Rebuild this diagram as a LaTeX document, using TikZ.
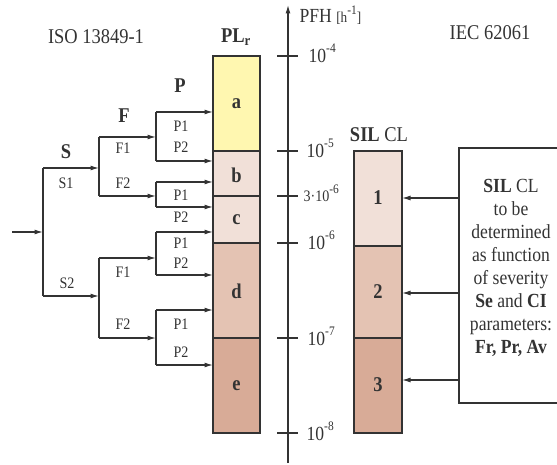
\documentclass[tikz,border=0pt]{standalone}
\usepackage{fontspec}
\setmainfont[FakeStretch=0.88]{Liberation Serif}
\usetikzlibrary{arrows.meta}
\definecolor{lc}{HTML}{333333}
\definecolor{ca}{HTML}{FFF7B0}
\definecolor{cb}{HTML}{F1E0D8}
\definecolor{cd}{HTML}{E4C3B3}
\definecolor{ce}{HTML}{D8AB97}
\newcommand{\fsz}[1]{\fontsize{#1}{#1}\selectfont}
\newcommand{\ex}[1]{\raisebox{0.5em}{\fsz{13}#1}}
\begin{document}
\begin{tikzpicture}[x=1pt,y=-1pt,line width=1.2pt,draw=lc,
  arr/.style={-{Latex[length=8.5pt,width=5pt]}},
  lab/.style={text=lc,font=\fsz{16},inner sep=0pt},
  head/.style={text=lc,font=\fsz{21},inner sep=0pt},
  bhead/.style={text=lc,font=\fsz{21}\bfseries,inner sep=0pt},
  tlab/.style={text=lc,font=\fsz{20},anchor=base west,inner sep=0pt},
  boxlab/.style={text=lc,font=\fsz{21}\bfseries,inner sep=0pt}]
\useasboundingbox (0,0) rectangle (557,465);

% headings
\node[head] (iso) at (96,37) {ISO 13849-1};
\node[bhead] (plr) at (236,37) {PL\textsubscript{r}};
\node[head] (iec) at (490,33) {IEC 62061};
\node[text=lc,font=\fsz{20},anchor=west,inner sep=0pt] (pfh) at (299,15) {PFH {\fsz{15}[h\ex{-1}]}};
\node[text=lc,font=\fsz{21},inner sep=0pt] (silcl) at (379,135) {\textbf{SIL} CL};

% PL boxes
\draw[fill=ca] (213,56) rectangle (260,151);
\draw[fill=cb] (213,151) rectangle (260,196);
\draw[fill=cb] (213,196) rectangle (260,243);
\draw[fill=cd] (213,243) rectangle (260,338);
\draw[fill=ce] (213,338) rectangle (260,433);
\node[boxlab] (a) at (236.5,103.5) {a};
\node[boxlab] (b) at (236.5,175) {b};
\node[boxlab] (c) at (236.5,220) {c};
\node[boxlab] (d) at (236.5,291) {d};
\node[boxlab] (e) at (236.5,386) {e};

% SIL boxes
\draw[fill=cb] (354,151) rectangle (402,246);
\draw[fill=cd] (354,246) rectangle (402,338);
\draw[fill=ce] (354,338) rectangle (402,433);
\node[boxlab] (sil1) at (378,198) {1};
\node[boxlab] (sil2) at (378,292) {2};
\node[boxlab] (sil3) at (378,385) {3};

% axis
\coordinate (ax0) at (288,463);
\coordinate (ax1) at (288,5);
\draw[arr] (ax0) -- (ax1);
\foreach \yy in {56,151,196,243,338,433} \draw (277,\yy) -- (298,\yy);
\node[tlab] (t4) at (308,63) {10\ex{-4}};
\node[tlab] (t5) at (306,158) {10\ex{-5}};
\node[tlab,font=\fsz{16}] (t36) at (303,202) {3·10\ex{-6}};
\node[tlab] (t6) at (307,250) {10\ex{-6}};
\node[tlab] (t7) at (307,345) {10\ex{-7}};
\node[tlab] (t8) at (306,440) {10\ex{-8}};

% right box
\draw (557,148) -- (459,148) -- (459,403) -- (557,403);
\node[text=lc,font=\fontsize{20}{23}\selectfont,align=center,inner sep=0pt] (txt) at (511,268)
  {\textbf{SIL} CL\\to be\\determined\\as function\\of severity\\\textbf{Se} and \textbf{CI}\\parameters:\\\textbf{Fr, Pr, Av}};
\coordinate (r1) at (459,198); \coordinate (q1) at (402,198);
\coordinate (r2) at (459,293); \coordinate (q2) at (402,293);
\coordinate (r3) at (459,380); \coordinate (q3) at (402,380);
\draw[arr] (r1) -- (q1);
\draw[arr] (r2) -- (q2);
\draw[arr] (r3) -- (q3);

% tree
\coordinate (in) at (12,232); \coordinate (s) at (43,232);
\coordinate (s1) at (43,168); \coordinate (s2) at (43,296);
\draw[arr] (in) -- (s);
\draw (s1) -- (s2);
% S1
\coordinate (fa) at (99,168);
\coordinate (fa1) at (99,137); \coordinate (fa2) at (99,196);
\draw[arr] (s1) -- (fa);
\draw (fa1) -- (fa2);
\coordinate (pa) at (156,137); \coordinate (pb) at (156,196);
\draw[arr] (fa1) -- (pa);
\draw[arr] (fa2) -- (pb);
\coordinate (pa1) at (156,112); \coordinate (pa2) at (156,161);
\coordinate (pb1) at (156,182); \coordinate (pb2) at (156,207);
\draw (pa1) -- (pa2); \draw (pb1) -- (pb2);
\coordinate (xa1) at (213,112); \coordinate (xa2) at (213,161);
\coordinate (xb1) at (213,182); \coordinate (xb2) at (213,207);
\draw[arr] (pa1) -- (xa1); \draw[arr] (pa2) -- (xa2);
\draw[arr] (pb1) -- (xb1); \draw[arr] (pb2) -- (xb2);
% S2
\coordinate (fb) at (99,296);
\coordinate (fb1) at (99,258); \coordinate (fb2) at (99,338);
\draw[arr] (s2) -- (fb);
\draw (fb1) -- (fb2);
\coordinate (pc) at (156,258); \coordinate (pd) at (156,338);
\draw[arr] (fb1) -- (pc);
\draw[arr] (fb2) -- (pd);
\coordinate (pc1) at (156,232); \coordinate (pc2) at (156,275);
\coordinate (pd1) at (156,310); \coordinate (pd2) at (156,365);
\draw (pc1) -- (pc2); \draw (pd1) -- (pd2);
\coordinate (xc1) at (213,232); \coordinate (xc2) at (213,275);
\coordinate (xd1) at (213,310); \coordinate (xd2) at (213,365);
\draw[arr] (pc1) -- (xc1); \draw[arr] (pc2) -- (xc2);
\draw[arr] (pd1) -- (xd1); \draw[arr] (pd2) -- (xd2);

% tree labels
\node[bhead] (lS) at (66,152) {S};
\node[lab] (lS1) at (66,183) {S1};
\node[lab] (lS2) at (67,283) {S2};
\node[bhead] (lF) at (124,116) {F};
\node[lab] (lF1a) at (123,148) {F1};
\node[lab] (lF2a) at (123,183) {F2};
\node[lab] (lF1b) at (123,272) {F1};
\node[lab] (lF2b) at (123,324) {F2};
\node[bhead] (lP) at (180,86) {P};
\node[lab] (lpa1) at (181,126) {P1};
\node[lab] (lpa2) at (181,147) {P2};
\node[lab] (lpb1) at (181,195) {P1};
\node[lab] (lpb2) at (181,217) {P2};
\node[lab] (lpc1) at (181,243) {P1};
\node[lab] (lpc2) at (181,263) {P2};
\node[lab] (lpd1) at (181,324) {P1};
\node[lab] (lpd2) at (181,352) {P2};
\end{tikzpicture}
\end{document}
